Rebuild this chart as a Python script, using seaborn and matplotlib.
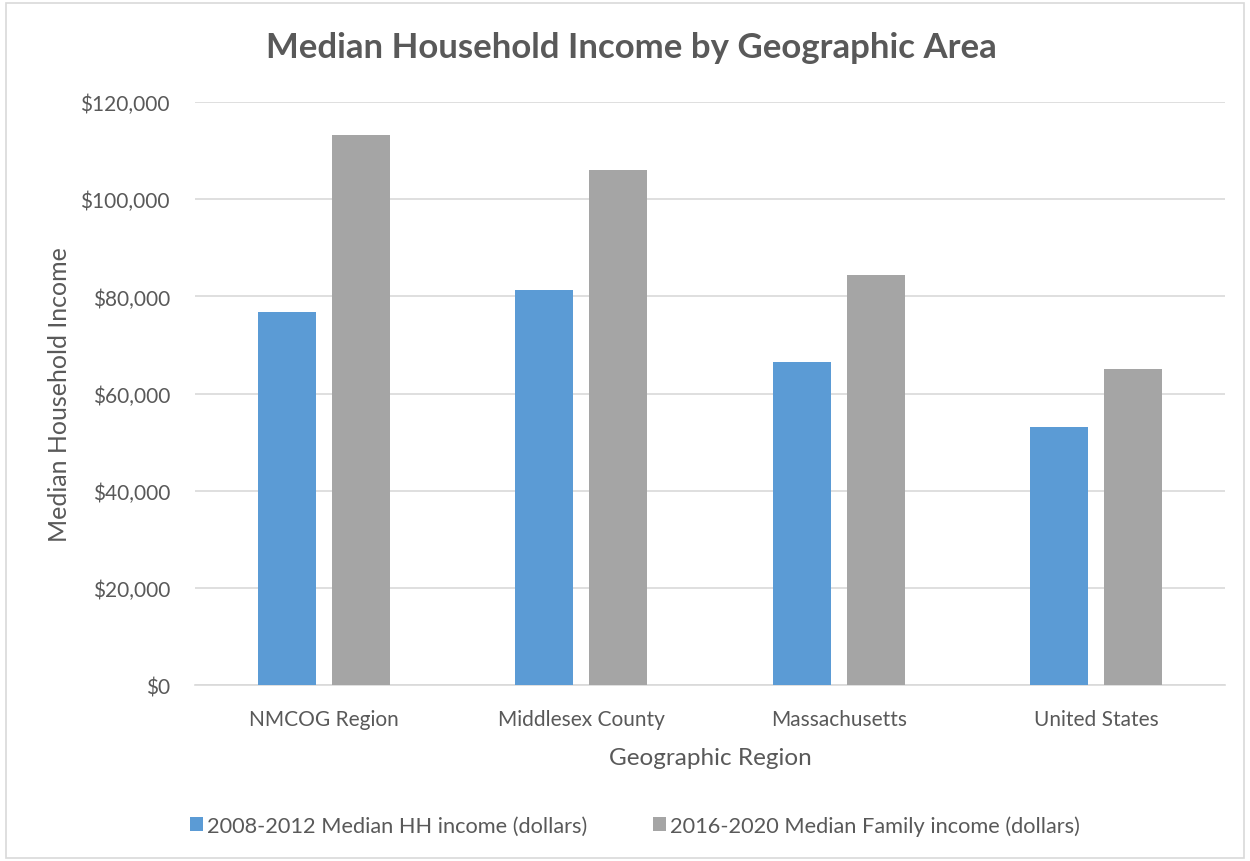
import matplotlib
matplotlib.use("Agg")
import matplotlib.pyplot as plt
import seaborn as sns
import pandas as pd
from matplotlib.patches import Rectangle, Patch
from matplotlib.ticker import FuncFormatter

regions = ["NMCOG Region", "Middlesex County", "Massachusetts", "United States"]
hh_2008_2012 = [76900, 81400, 66600, 53100]
family_2016_2020 = [113200, 106100, 84400, 65000]
series_names = ["2008-2012 Median HH income (dollars)", "2016-2020 Median Family income (dollars)"]
yticks = [0, 20000, 40000, 60000, 80000, 100000, 120000]

df = pd.DataFrame({
    "Region": regions * 2,
    "Series": [series_names[0]] * 4 + [series_names[1]] * 4,
    "Value": hh_2008_2012 + family_2016_2020,
})

sns.set_theme(style="white")
plt.rcParams['font.family'] = ['Lato', 'DejaVu Sans']

fig = plt.figure(figsize=(12.5, 8.62), dpi=100)
ax = fig.add_axes([0.156, 0.2036, 0.824, 0.677])

palette = {series_names[0]: "#5b9bd5", series_names[1]: "#a5a5a5"}
sns.barplot(data=df, x="Region", y="Value", hue="Series", palette=palette,
            width=0.575, gap=0.217, ax=ax, legend=False, saturation=1,
            linewidth=0, zorder=3)

ax.set_ylim(0, 120000)
ax.set_xlim(-0.5, 3.5)
ax.set_yticks(yticks)
ax.yaxis.set_major_formatter(FuncFormatter(lambda v, p: f"${int(v):,}"))
ax.grid(axis="y", color="#d9d9d9", linewidth=1.2, zorder=0)
ax.set_axisbelow(True)
for s in ["top", "right", "left"]:
    ax.spines[s].set_visible(False)
ax.spines["bottom"].set_color("#d9d9d9")
ax.spines["bottom"].set_linewidth(1.2)
ax.tick_params(axis="both", length=0, labelsize=15, colors="#595959")
ax.tick_params(axis="y", pad=18)
ax.tick_params(axis="x", pad=17)

ax.set_xlabel("Geographic Region", fontsize=17.5, color="#595959", labelpad=13)
ax.set_ylabel("Median Household Income", fontsize=18, color="#595959", labelpad=7)

fig.text(0.505, 0.944, "Median Household Income by Geographic Area", ha="center", va="center",
         fontsize=25, fontweight="bold", color="#595959")

handles = [Patch(facecolor=palette[n], edgecolor="none") for n in series_names]
fig.legend(handles, series_names, loc="center", bbox_to_anchor=(0.508, 0.041), ncol=2,
           frameon=False, fontsize=15.7, labelcolor="#595959", handlelength=0.6,
           handleheight=0.6, handletextpad=0.2, columnspacing=3.0)

fig.patches.append(Rectangle((0.005, 0.004), 0.99, 0.991, transform=fig.transFigure,
                             fill=False, edgecolor="#d9d9d9", linewidth=1.2))

fig.savefig("out.png", dpi=100, facecolor="white")
